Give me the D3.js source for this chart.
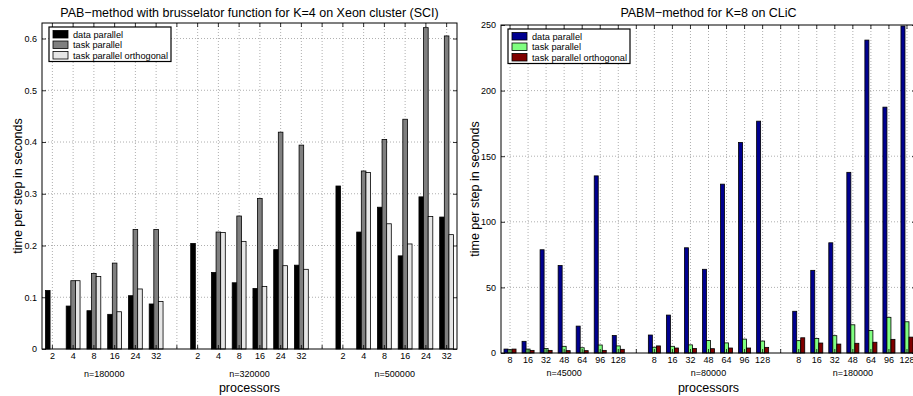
<!DOCTYPE html>
<html>
<head>
<meta charset="utf-8">
<script src="https://cdn.jsdelivr.net/npm/d3@7"></script>
<style>
  body { margin: 0; background: #fff; }
  svg text { font-family: "Liberation Sans", Arial, Helvetica, sans-serif; fill: #000; }
</style>
</head>
<body>
<script>
const seriesNames = ["data parallel", "task parallel", "task parallel orthogonal"];

// left panel: PAB method, Xeon cluster (SCI)
const xeonProcs = ["2", "4", "8", "16", "24", "32"];
const xeonSizes = ["n=180000", "n=320000", "n=500000"];
const xeonDataPar = [0.113, 0.083, 0.074, 0.067, 0.103, 0.087,
                     0.204, 0.148, 0.128, 0.117, 0.192, 0.162,
                     0.315, 0.226, 0.274, 0.180, 0.294, 0.255];
const xeonTaskPar = [0, 0.132, 0.146, 0.166, 0.231, 0.231,
                     0, 0.226, 0.257, 0.291, 0.419, 0.394,
                     0, 0.344, 0.405, 0.444, 0.621, 0.605];
const xeonTaskOrth = [0, 0.132, 0.140, 0.072, 0.116, 0.092,
                      0, 0.225, 0.208, 0.121, 0.161, 0.154,
                      0, 0.341, 0.242, 0.203, 0.256, 0.221];
const xeonTicks = [0, 0.1, 0.2, 0.3, 0.4, 0.5, 0.6];

// right panel: PABM method, CLiC
const clicProcs = ["8", "16", "32", "48", "64", "96", "128"];
const clicSizes = ["n=45000", "n=80000", "n=180000"];
const clicDataPar = [3.0, 8.9, 78.7, 66.7, 20.5, 135.0, 13.3,
                     13.7, 28.9, 80.2, 63.8, 128.7, 160.5, 176.7,
                     31.8, 63.0, 84.0, 137.7, 238.5, 187.4, 249.2];
const clicTaskPar = [2.5, 3.0, 3.5, 5.1, 4.0, 6.1, 5.4,
                     4.4, 5.1, 6.2, 9.5, 7.7, 10.6, 9.1,
                     9.4, 11.1, 13.2, 21.5, 17.1, 27.2, 23.8];
const clicTaskOrth = [3.0, 2.0, 2.0, 1.8, 1.8, 2.0, 2.8,
                      5.4, 3.8, 3.4, 3.3, 3.8, 3.8, 4.3,
                      11.6, 7.6, 6.8, 7.4, 8.2, 10.4, 12.1];
const clicTicks = [0, 50, 100, 150, 200, 250];

const width = 913;
const height = 396;

const svg = d3.create("svg")
  .attr("width", width)
  .attr("height", height);

function drawPanel(p) {
  // slots: one per (size, procs), with one empty slot between sizes
  const slots = [];
  p.sizes.forEach((size, gi) => {
    if (gi > 0) slots.push({ key: "gap" + gi, label: "" });
    p.procs.forEach((pr, pi) => {
      slots.push({ key: size + "|" + pr, label: pr, size, idx: gi * p.procs.length + pi });
    });
  });
  const bars = slots.filter(s => s.size);

  const x = d3.scaleBand()
    .domain(slots.map(s => s.key))
    .range([p.left, p.right]);
  const bw = x.bandwidth();
  const groupW = bw * 0.667;
  const xs = d3.scaleBand()
    .domain(seriesNames)
    .range([0, groupW]);

  const y = d3.scaleLinear()
    .domain([0, p.yMax])
    .range([p.bottom, p.top]);

  const g = svg.append("g");
  const labelOf = d3.map(slots, s => s.label);
  const fmt = k => slots.find(s => s.key === k).label;

  // grid
  const grid = g.append("g")
    .attr("stroke", "#9a9a9a")
    .attr("stroke-width", 0.8)
    .attr("stroke-dasharray", "1,2");
  grid.selectAll("line.v")
    .data(slots)
    .join("line")
    .attr("x1", s => x(s.key) + bw / 2)
    .attr("x2", s => x(s.key) + bw / 2)
    .attr("y1", p.top)
    .attr("y2", p.bottom);
  grid.selectAll("line.h")
    .data(p.ticks.filter(t => t > 0 && t < p.yMax))
    .join("line")
    .attr("class", "h")
    .attr("x1", p.left)
    .attr("x2", p.right)
    .attr("y1", d => y(d))
    .attr("y2", d => y(d));

  // bars
  const series = [p.dataPar, p.taskPar, p.taskOrth];
  g.append("g")
    .selectAll("g")
    .data(seriesNames)
    .join("g")
    .attr("fill", (d, i) => p.colors[i])
    .attr("stroke", "#000")
    .attr("stroke-width", 0.8)
    .selectAll("rect")
    .data((name, i) => bars.map(s => ({ s, name, v: series[i][s.idx] })))
    .join("rect")
    .attr("x", d => x(d.s.key) + (bw - groupW) / 2 + xs(d.name))
    .attr("width", xs.bandwidth())
    .attr("y", d => y(d.v))
    .attr("height", d => y(0) - y(d.v));

  // axes, ticks pointing inward
  const gxb = g.append("g")
    .attr("transform", `translate(0,${p.bottom})`)
    .call(d3.axisBottom(x).tickFormat(fmt).tickSizeInner(-4).tickSizeOuter(0).tickPadding(4));
  g.append("g")
    .attr("transform", `translate(0,${p.top})`)
    .call(d3.axisTop(x).tickFormat("").tickSizeInner(-4).tickSizeOuter(0));
  g.append("g")
    .attr("transform", `translate(${p.left},0)`)
    .call(d3.axisLeft(y).tickValues(p.ticks).tickFormat(d3.format("~g"))
      .tickSizeInner(-4).tickSizeOuter(0).tickPadding(5));
  g.append("g")
    .attr("transform", `translate(${p.right},0)`)
    .call(d3.axisRight(y).tickValues(p.ticks).tickFormat("").tickSizeInner(-4).tickSizeOuter(0));
  g.selectAll(".domain").remove();
  g.selectAll(".tick text").attr("font-size", 9).attr("font-family", null);
  g.selectAll(".tick line").attr("stroke-width", 0.8);

  // frame
  g.append("rect")
    .attr("x", p.left)
    .attr("y", p.top)
    .attr("width", p.right - p.left)
    .attr("height", p.bottom - p.top)
    .attr("fill", "none")
    .attr("stroke", "#000")
    .attr("stroke-width", 1);

  // size labels under each group
  g.selectAll("text.size")
    .data(p.sizes)
    .join("text")
    .attr("class", "size")
    .attr("x", (d, i) => {
      const ks = p.procs.map(pr => x(d + "|" + pr) + bw / 2);
      return (ks[0] + ks[ks.length - 1]) / 2;
    })
    .attr("y", p.sizeY)
    .attr("text-anchor", "middle")
    .attr("font-size", 9)
    .text(d => d);

  g.append("text")
    .attr("x", (p.left + p.right) / 2)
    .attr("y", 391.5)
    .attr("text-anchor", "middle")
    .attr("font-size", 12.5)
    .text("processors");

  g.append("text")
    .attr("transform", `translate(${p.yLabelX},${(p.top + p.bottom) / 2}) rotate(-90)`)
    .attr("text-anchor", "middle")
    .attr("font-size", 12.5)
    .text("time per step in seconds");

  g.append("text")
    .attr("x", (p.left + p.right) / 2)
    .attr("y", 17)
    .attr("text-anchor", "middle")
    .attr("font-size", 12.5)
    .text(p.title);

  // legend
  const lx = p.left + 7, ly = p.top + 4;
  const leg = g.append("g").attr("transform", `translate(${lx},${ly})`);
  leg.append("rect")
    .attr("width", 122)
    .attr("height", 34.5)
    .attr("fill", "#fff")
    .attr("stroke", "#000")
    .attr("stroke-width", 1.2);
  const items = leg.selectAll("g")
    .data(seriesNames)
    .join("g")
    .attr("transform", (d, i) => `translate(4,${3.5 + i * 10.5})`);
  items.append("rect")
    .attr("width", 15)
    .attr("height", 7.5)
    .attr("fill", (d, i) => p.colors[i])
    .attr("stroke", "#000")
    .attr("stroke-width", 0.8);
  items.append("text")
    .attr("x", 20)
    .attr("y", 7)
    .attr("font-size", 9.2)
    .text(d => d);
}

drawPanel({
  title: "PAB\u2212method with brusselator function for K=4 on Xeon cluster (SCI)",
  procs: xeonProcs, sizes: xeonSizes,
  dataPar: xeonDataPar, taskPar: xeonTaskPar, taskOrth: xeonTaskOrth,
  ticks: xeonTicks, yMax: 0.63,
  colors: ["#000000", "#7f7f7f", "#e6e6e6"],
  left: 42, right: 457, top: 23, bottom: 349,
  sizeY: 377, yLabelX: 22
});

drawPanel({
  title: "PABM\u2212method for K=8 on CLiC",
  procs: clicProcs, sizes: clicSizes,
  dataPar: clicDataPar, taskPar: clicTaskPar, taskOrth: clicTaskOrth,
  ticks: clicTicks, yMax: 250,
  colors: ["#00008f", "#80ff80", "#800000"],
  left: 501, right: 916, top: 25, bottom: 353,
  sizeY: 375.5, yLabelX: 479
});

document.body.appendChild(svg.node());
</script>
</body>
</html>
